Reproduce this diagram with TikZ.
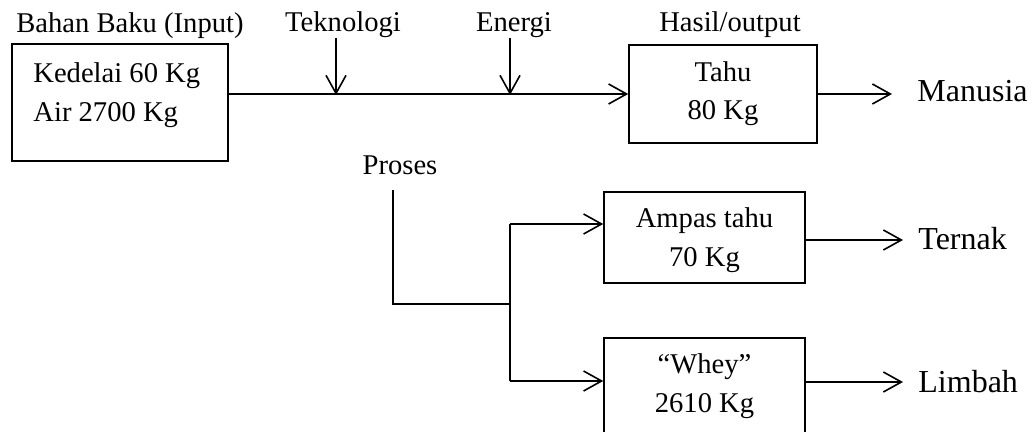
\documentclass[tikz,border=0pt]{standalone}
\usepackage{fontspec}
\setmainfont{Liberation Serif}
\usetikzlibrary{arrows.meta}
\tikzset{
  box/.style={draw, line width=0.8pt, inner sep=0pt},
  lbl/.style={anchor=base, inner sep=0pt, font=\fontsize{14.3}{19.5}\selectfont},
  lblw/.style={anchor=base west, inner sep=0pt, font=\fontsize{14.3}{19.5}\selectfont},
  big/.style={anchor=base west, inner sep=0pt, font=\fontsize{16}{19.5}\selectfont},
  conn/.style={line width=0.8pt},
  arr/.style={line width=0.8pt, -{Straight Barb[length=9pt, width=10pt]}}
}
\begin{document}
\begin{tikzpicture}[x=0.5pt,y=-0.5pt]
\clip (0,0) rectangle (1032,432);
% boxes
\node[box, minimum width=108pt, minimum height=58.5pt] (input) at (120,102.5) {};
\node[box, minimum width=94pt, minimum height=49pt] (tahu) at (723,94) {};
\node[box, minimum width=100.5pt, minimum height=45.5pt] (ampas) at (704.5,237.5) {};
\node[box, minimum width=100.5pt, minimum height=48pt] (whey) at (704.5,386) {};
% texts
\node[lbl] (bahan) at (130,33) {Bahan Baku (Input)};
\node[lbl] (tekno) at (343,32) {Teknologi};
\node[lbl] (energi) at (514,32) {Energi};
\node[lbl] (hasil) at (730,32) {Hasil/output};
\node[lblw] (kedelai) at (33,83) {Kedelai 60 Kg};
\node[lblw] (air) at (33,122) {Air 2700 Kg};
\node[lbl] (tahu1) at (723,82) {Tahu};
\node[lbl] (tahu2) at (723,120) {80 Kg};
\node[lbl] (proses) at (400,175) {Proses};
\node[lbl] (ampas1) at (704.5,228) {Ampas tahu};
\node[lbl] (ampas2) at (704.5,267) {70 Kg};
\node[lbl] (whey1) at (704.5,373) {``Whey''};
\node[lbl] (whey2) at (704.5,412) {2610 Kg};
\node[big] (manusia) at (917,102) {Manusia};
\node[big] (ternak) at (918,250) {Ternak};
\node[big] (limbah) at (918,393) {Limbah};
% coordinates
\coordinate (tkTop) at (336,38);
\coordinate (tkEnd) at (336,95);
\coordinate (enTop) at (510,38);
\coordinate (enEnd) at (510,95);
\coordinate (manEnd) at (892,94);
\coordinate (prTop) at (393,190);
\coordinate (prCorner) at (393,304);
\coordinate (split) at (510,304);
\coordinate (brTop) at (510,224);
\coordinate (brBot) at (510,381);
\coordinate (terEnd) at (903,240);
\coordinate (limEnd) at (903,382);
% connectors
\draw[arr] (input.east |- tahu.west) -- (tahu.west);
\draw[arr] (tkTop) -- (tkEnd);
\draw[arr] (enTop) -- (enEnd);
\draw[arr] (tahu.east) -- (manEnd);
\draw[conn] (prTop) -- (prCorner) -- (split);
\draw[conn] (brTop) -- (brBot);
\draw[arr] (brTop) -- (brTop -| ampas.west);
\draw[arr] (brBot) -- (brBot -| whey.west);
\draw[arr] (ampas.east |- terEnd) -- (terEnd);
\draw[arr] (whey.east |- limEnd) -- (limEnd);
\end{tikzpicture}
\end{document}
